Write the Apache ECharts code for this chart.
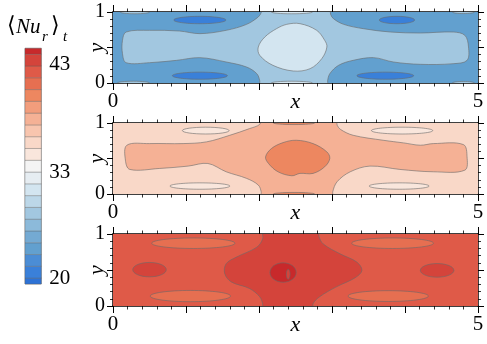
<!DOCTYPE html>
<html><head><meta charset="utf-8">
<script src="https://cdn.jsdelivr.net/npm/echarts@6/dist/echarts.min.js"></script>
<style>html,body{margin:0;padding:0;background:#fff}#c{width:487px;height:344px}</style>
</head><body><div id="c"></div>
<script>
// ---- colour bar (bands listed bottom -> top) ----
const cbColors = ['#2d72d5','#3a80d9','#4b8dd5','#62a0cf','#74aad3','#8cbada','#a2c7e0','#bcd7e8','#d3e5f0','#e6edf2','#f4f4f4','#f9e6dc','#f9d8c8','#f8c5ae','#f5b195','#f29d7c','#ed8760','#e66f51','#df5a48','#d4443b','#c8292b'];
const cbTickPos = [0.45, 9.5, 18.65];
const cbTickLabels = ['20', '33', '43'];

// ---- axis tick labels ----
const xTickValues = [0, 5];
const xTickLabels = ['0', '5'];
const yTickValues = [0, 1];
const yTickLabels = ['0', '1'];

// ---- panel 1 (level = colour-bar band index) ----
const p1BaseLevel = 3;
const p1BandLevel = 6;
const p1Band = [[2.05,1.06],[2.97,1.06],[2.98,0.97],[3.02,0.906],[3.16,0.826],[3.43,0.765],[3.80,0.718],[4.21,0.704],[4.66,0.718],[4.82,0.671],[4.87,0.507],[4.85,0.319],[4.66,0.272],[4.21,0.263],[3.84,0.296],[3.57,0.357],[3.29,0.319],[3.09,0.249],[2.97,0.131],[2.94,0.03],[2.94,-0.06],[2.01,-0.06],[2.01,0.03],[1.97,0.131],[1.83,0.225],[1.55,0.296],[1.19,0.357],[0.87,0.319],[0.50,0.286],[0.18,0.286],[0.13,0.413],[0.13,0.601],[0.18,0.718],[0.50,0.742],[0.91,0.732],[1.19,0.695],[1.55,0.742],[1.83,0.826],[1.99,0.93],[2.03,0.99]];
const p1CoreLevel = 8;
const p1Core = [[2.38,0.826],[2.56,0.836],[2.79,0.742],[2.90,0.601],[2.93,0.507],[2.86,0.343],[2.70,0.202],[2.47,0.169],[2.19,0.249],[2.01,0.390],[1.99,0.507],[2.08,0.648],[2.24,0.765]];
const p1SpotLevel = 1;
const p1SpotCentres = [[1.19,0.887],[3.89,0.887],[1.19,0.103],[3.73,0.103]];
const p1SpotRadii = [[0.357,0.052],[0.242,0.052],[0.377,0.05],[0.389,0.05]];
const p1EdgeLevel = 6;
const p1EdgeCentres = [[0.30,1.0],[0.28,0.0],[4.80,1.0],[4.80,0.0]];
const p1EdgeRadii = [[0.2,0.025],[0.22,0.025],[0.15,0.022],[0.15,0.022]];
const p1MidEdgeLevel = 8;
const p1MidEdgeCentres = [[2.45,1.0],[2.45,0.0]];
const p1MidEdgeRadii = [[0.28,0.025],[0.28,0.025]];

// ---- panel 2 ----
const p2BaseLevel = 12;
const p2BandLevel = 14;
const p2Band = [[2.04,1.06],[3.06,1.06],[3.07,0.97],[3.12,0.907],[3.29,0.827],[3.70,0.757],[3.98,0.72],[4.21,0.687],[4.39,0.71],[4.80,0.696],[4.85,0.523],[4.82,0.336],[4.39,0.313],[3.93,0.346],[3.52,0.393],[3.25,0.313],[3.07,0.173],[3.01,0.03],[3.01,-0.06],[2.03,-0.06],[2.03,0.03],[1.99,0.126],[1.83,0.22],[1.55,0.313],[1.30,0.43],[1.03,0.393],[0.64,0.36],[0.23,0.346],[0.17,0.477],[0.19,0.687],[0.50,0.71],[0.96,0.71],[1.28,0.734],[1.60,0.827],[1.87,0.921],[2.01,0.98]];
const p2CoreLevel = 16;
const p2Core = [[2.33,0.724],[2.51,0.757],[2.74,0.71],[2.93,0.593],[2.97,0.5],[2.90,0.383],[2.74,0.29],[2.56,0.29],[2.45,0.257],[2.26,0.313],[2.13,0.43],[2.09,0.523],[2.17,0.64]];
const p2SpotLevel = 11;
const p2SpotCentres = [[1.27,0.893],[3.96,0.893],[1.19,0.112],[3.92,0.112]];
const p2SpotRadii = [[0.32,0.048],[0.42,0.048],[0.41,0.045],[0.41,0.045]];
const p2MidEdgeLevel = 16;
const p2MidEdgeCentres = [[2.48,1.0],[2.48,0.0]];
const p2MidEdgeRadii = [[0.28,0.022],[0.28,0.022]];

// ---- panel 3 ----
const p3BaseLevel = 18;
const p3SpotLevel = 17;
const p3SpotCentres = [[1.10,0.872],[3.83,0.872],[1.06,0.138],[3.77,0.138]];
const p3SpotRadii = [[0.57,0.073],[0.56,0.073],[0.55,0.078],[0.55,0.075]];
const p3SideLevel = 19;
const p3SideCentres = [[0.50,0.505],[4.44,0.495]];
const p3SideRadii = [[0.23,0.10],[0.23,0.095]];
const p3MidLevel = 19;
const p3Mid = [[2.06,1.06],[2.81,1.06],[2.82,0.97],[2.88,0.862],[3.11,0.725],[3.34,0.61],[3.41,0.495],[3.32,0.394],[3.06,0.266],[2.83,0.128],[2.74,0.03],[2.74,-0.06],[2.06,-0.06],[2.05,0.03],[2.01,0.128],[1.87,0.243],[1.62,0.335],[1.53,0.45],[1.55,0.587],[1.69,0.679],[1.97,0.817],[2.05,0.931]];
const p3CoreLevel = 20;
const p3CoreCentre = [2.33,0.465];
const p3CoreRadii = [0.18,0.135];
const p3HoleCentre = [2.40,0.44];
const p3HoleRadii = [0.025,0.07];

function ellipses(level, centres, radii){
  return centres.map((c,i)=>({kind:'ellipse', level, c, r: radii[i]}));
}
const panels = [
  [{kind:'base', level:p1BaseLevel}].concat(ellipses(p1EdgeLevel, p1EdgeCentres, p1EdgeRadii), [{kind:'poly', level:p1BandLevel, pts:p1Band}], ellipses(p1MidEdgeLevel, p1MidEdgeCentres, p1MidEdgeRadii), [{kind:'poly', level:p1CoreLevel, pts:p1Core}], ellipses(p1SpotLevel, p1SpotCentres, p1SpotRadii)),
  [{kind:'base', level:p2BaseLevel}, {kind:'poly', level:p2BandLevel, pts:p2Band}].concat(ellipses(p2MidEdgeLevel, p2MidEdgeCentres, p2MidEdgeRadii), [{kind:'poly', level:p2CoreLevel, pts:p2Core}], ellipses(p2SpotLevel, p2SpotCentres, p2SpotRadii)),
  [{kind:'base', level:p3BaseLevel}].concat(ellipses(p3SpotLevel, p3SpotCentres, p3SpotRadii), ellipses(p3SideLevel, p3SideCentres, p3SideRadii), [{kind:'poly', level:p3MidLevel, pts:p3Mid}], ellipses(p3CoreLevel, [p3CoreCentre], [p3CoreRadii]), ellipses(p3MidLevel, [p3HoleCentre], [p3HoleRadii]))
];

const SERIF = '"Liberation Serif","Times New Roman","DejaVu Serif",serif';
const LINE = '#6a6a6a';

function renderFor(regions){
  return function(params, api){
    const r = regions[params.dataIndex];
    const fill = cbColors[r.level];
    const cs = params.coordSys;
    let el;
    if (r.kind === 'base'){
      const a = api.coord([0,0]), b = api.coord([5,1]);
      el = {type:'rect', shape:{x:a[0], y:b[1], width:b[0]-a[0], height:a[1]-b[1]}, style:{fill}};
    } else if (r.kind === 'poly'){
      el = {type:'polygon', shape:{points:r.pts.map(p=>api.coord(p)), smooth:0.35}, style:{fill, stroke:LINE, lineWidth:0.6}};
    } else {
      const c = api.coord(r.c), s = api.size([r.r[0], r.r[1]]);
      el = {type:'ellipse', shape:{cx:c[0], cy:c[1], rx:s[0], ry:s[1]}, style:{fill, stroke:LINE, lineWidth:0.6}};
    }
    return {type:'group', children:[el], clipPath:{type:'rect', shape:{x:cs.x, y:cs.y, width:cs.width, height:cs.height}}};
  };
}

const gridTops = [12, 123, 234];
const gridH = [71, 71, 72];
const grids = gridTops.map((t,i)=>({left:113, top:t, width:365, height:gridH[i]}));
grids.push({left:25, top:48.3, width:16.3, height:235.7, show:true, borderColor:'#8a8a8a', borderWidth:0.8, backgroundColor:'transparent'});

function axLine(){ return {show:true, onZero:false, lineStyle:{color:'#000', width:1.5}}; }
function majTick(len){ return {show:true, length:len, lineStyle:{color:'#000', width:1}}; }
function minTick(len){ return {show:true, splitNumber:5, length:len, lineStyle:{color:'#000', width:0.8}}; }
const xAxes = [], yAxes = [];
for (let i=0;i<3;i++){
  xAxes.push({gridIndex:i, type:'value', min:0, max:5, interval:1, position:'bottom', axisLine:axLine(),
    axisTick:majTick(7), minorTick:minTick(3.5), splitLine:{show:false},
    axisLabel:{show:true, margin:8, color:'#000', fontFamily:SERIF, fontSize:21,
      formatter:v=>{const k=xTickValues.indexOf(v);return k<0?'':xTickLabels[k];}},
    name:'x', nameLocation:'middle', nameGap:8, nameMoveOverlap:false,
    nameTextStyle:{color:'#000', fontFamily:SERIF, fontStyle:'italic', fontSize:22}});
  xAxes.push({gridIndex:i, type:'value', min:0, max:5, interval:1, position:'top', axisLine:axLine(),
    axisTick:majTick(7), minorTick:minTick(3.5), splitLine:{show:false}, axisLabel:{show:false}});
  yAxes.push({gridIndex:i, type:'value', min:0, max:1, interval:0.5, position:'left', axisLine:axLine(),
    axisTick:majTick(6), minorTick:minTick(3), splitLine:{show:false},
    axisLabel:{show:true, margin:8, color:'#000', fontFamily:SERIF, fontSize:20,
      formatter:v=>{const k=yTickValues.indexOf(v);return k<0?'':yTickLabels[k];}},
    name:'y', nameLocation:'middle', nameGap:5, nameMoveOverlap:false,
    nameTextStyle:{color:'#000', fontFamily:SERIF, fontStyle:'italic', fontSize:22}});
  yAxes.push({gridIndex:i, type:'value', min:0, max:1, interval:0.5, position:'right', axisLine:axLine(),
    axisTick:majTick(6), minorTick:minTick(3), splitLine:{show:false}, axisLabel:{show:false}});
}
xAxes.push({gridIndex:3, type:'value', min:0, max:1, show:false});
yAxes.push({gridIndex:3, type:'value', min:0, max:20, position:'right',
  axisLine:{show:false}, axisTick:{show:false}, splitLine:{show:false},
  axisLabel:{show:true, margin:8, color:'#000', fontFamily:SERIF, fontSize:21, customValues:cbTickPos,
    formatter:v=>{let k=0,best=1e9;cbTickPos.forEach((p,i)=>{if(Math.abs(p-v)<best){best=Math.abs(p-v);k=i;}});return cbTickLabels[k];}}});

const series = panels.map((regions,i)=>({
  type:'custom', xAxisIndex:2*i, yAxisIndex:2*i, silent:true,
  data: regions.map(()=>[2.5,0.5]),
  renderItem: renderFor(regions)
}));
series.push({
  type:'custom', xAxisIndex:6, yAxisIndex:6, silent:true,
  data: cbColors.map((c,i)=>[0.5,i]),
  renderItem:(params, api)=>{
    const i = params.dataIndex;
    const lo = Math.max(0, i-0.5), hi = Math.min(cbColors.length-1, i+0.5);
    const a = api.coord([0,lo]), b = api.coord([1,hi]);
    return {type:'rect', shape:{x:a[0], y:b[1], width:b[0]-a[0], height:a[1]-b[1]},
      style:{fill:cbColors[i], stroke:'rgba(90,90,90,0.55)', lineWidth:0.6}};
  }
});

const chart = echarts.init(document.getElementById('c'), null, {renderer:'canvas'});
chart.setOption({
  animation:false,
  backgroundColor:'#fff',
  grid:grids, xAxis:xAxes, yAxis:yAxes, series,
  graphic:[
    {type:'text', left:7, top:15, style:{text:'\u27E8', font:'22px "DejaVu Serif",serif', fill:'#000'}},
    {type:'text', left:16, top:17, style:{text:'Nu', font:'italic 21px '+SERIF, fill:'#000'}},
    {type:'text', left:42, top:30, style:{text:'r', font:'italic 15px '+SERIF, fill:'#000'}},
    {type:'text', left:51, top:15, style:{text:'\u27E9', font:'22px "DejaVu Serif",serif', fill:'#000'}},
    {type:'text', left:63, top:30, style:{text:'t', font:'italic 15px '+SERIF, fill:'#000'}}
  ]
});
</script></body></html>
